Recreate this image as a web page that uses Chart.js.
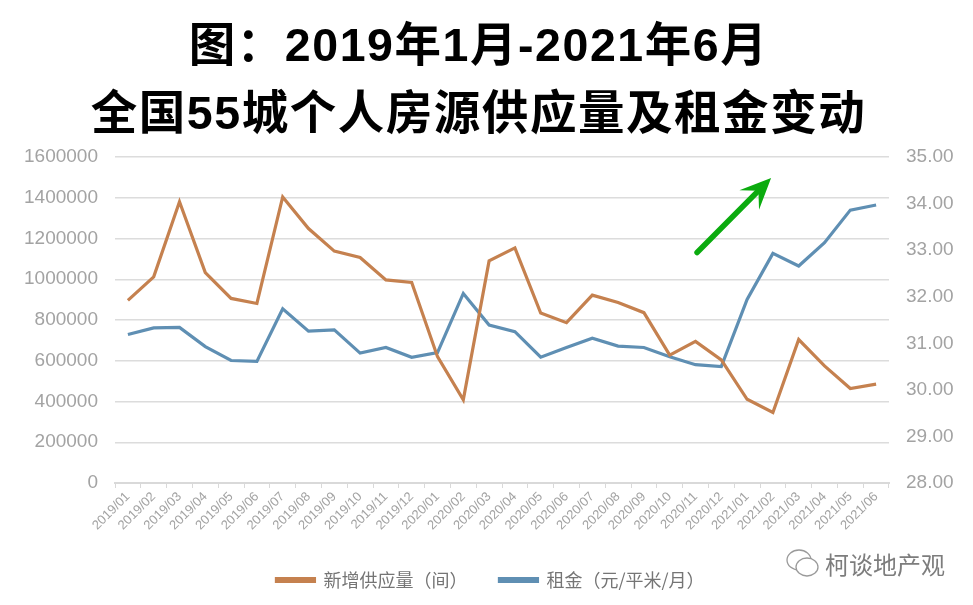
<!DOCTYPE html>
<html lang="zh">
<head>
    <meta charset="UTF-8">
    <title>全国55城个人房源供应量及租金变动</title>
    <script src="https://cdnjs.cloudflare.com/ajax/libs/Chart.js/4.4.1/chart.umd.min.js"></script>
    <style>
        * { margin: 0; padding: 0; box-sizing: border-box; }
        html, body { width: 973px; height: 605px; overflow: hidden; background: #fff; }
        .title {
            position: absolute;
            left: 0;
            top: 11px;
            width: 957px;
            text-align: center;
            font-family: "Liberation Sans", "Noto Sans CJK SC", sans-serif;
            font-weight: 700;
            font-size: 46.5px;
            line-height: 68px;
            letter-spacing: 1.55px;
            color: #000;
        }
        .chart-box { position: absolute; left: 0; top: 0; width: 973px; height: 605px; }
        .mark {
            position: absolute;
            left: 786px;
            top: 546px;
            display: flex;
            align-items: center;
            gap: 5px;
            font-family: "Noto Sans CJK SC", sans-serif;
            font-size: 24px;
            color: #7d7d7d;
        }
    </style>
</head>
<body>
    <div class="chart-box"><canvas id="rentChart"></canvas></div>
    <h1 class="title">图：2019年1月-2021年6月<br>全国55城个人房源供应量及租金变动</h1>
    <div class="mark">
        <svg width="34" height="32" viewBox="0 0 34 32" fill="#fff" stroke="#9a9a9a" stroke-width="1.3">
            <ellipse cx="13" cy="12" rx="12" ry="10"/>
            <ellipse cx="21" cy="19" rx="11" ry="9"/>
        </svg>
        <span>柯谈地产观</span>
    </div>

    <script>
        const months = [
            '2019/01', '2019/02', '2019/03', '2019/04', '2019/05', '2019/06',
            '2019/07', '2019/08', '2019/09', '2019/10', '2019/11', '2019/12',
            '2020/01', '2020/02', '2020/03', '2020/04', '2020/05', '2020/06',
            '2020/07', '2020/08', '2020/09', '2020/10', '2020/11', '2020/12',
            '2021/01', '2021/02', '2021/03', '2021/04', '2021/05', '2021/06'
        ];
        const supply = [
            896000, 1012000, 1380000, 1033000, 906000, 881000,
            1404000, 1249000, 1138000, 1107000, 997000, 984000,
            620000, 408000, 1090000, 1154000, 834000, 787000,
            922000, 886000, 836000, 628000, 695000, 604000,
            411000, 346000, 704000, 575000, 464000, 485000
        ];
        const rent = [
            31.19, 31.33, 31.34, 30.93, 30.63, 30.61,
            31.74, 31.26, 31.29, 30.79, 30.91, 30.70,
            30.80, 32.07, 31.39, 31.25, 30.70, 30.91,
            31.11, 30.94, 30.91, 30.71, 30.54, 30.50,
            31.94, 32.93, 32.66, 33.16, 33.86, 33.97
        ];
        const seriesNames = ['新增供应量（间）', '租金（元/平米/月）'];

        // green trend arrow, given as [category index, rent]
        const arrowFrom = [22.06, 32.95];
        const arrowTo = [24.93, 34.55];

        const tickFont = { family: '"Liberation Sans", Arial, sans-serif', size: 19 };

        const arrowPlugin = {
            id: 'trendArrow',
            afterDatasetsDraw(chart) {
                const x = chart.scales.x, y = chart.scales.y1, c = chart.ctx;
                const x0 = x.getPixelForValue(arrowFrom[0]), y0 = y.getPixelForValue(arrowFrom[1]);
                const x1 = x.getPixelForValue(arrowTo[0]), y1 = y.getPixelForValue(arrowTo[1]);
                const a = Math.atan2(y1 - y0, x1 - x0);
                c.save();
                c.strokeStyle = c.fillStyle = '#0bab0f';
                c.lineWidth = 5.5;
                c.lineCap = 'round';
                c.beginPath();
                c.moveTo(x0, y0);
                c.lineTo(x1 - 12 * Math.cos(a), y1 - 12 * Math.sin(a));
                c.stroke();
                c.beginPath();
                c.moveTo(x1, y1);
                c.lineTo(x1 - 34 * Math.cos(a - 0.42), y1 - 34 * Math.sin(a - 0.42));
                c.lineTo(x1 - 18 * Math.cos(a), y1 - 18 * Math.sin(a));
                c.lineTo(x1 - 34 * Math.cos(a + 0.42), y1 - 34 * Math.sin(a + 0.42));
                c.closePath();
                c.fill();
                c.restore();
            }
        };

        new Chart(document.getElementById('rentChart'), {
            type: 'line',
            plugins: [arrowPlugin],
            data: {
                labels: months,
                datasets: [{
                    label: seriesNames[0],
                    data: supply,
                    yAxisID: 'y',
                    borderColor: '#c5814f',
                    backgroundColor: '#c5814f',
                    borderWidth: 3.2,
                    pointRadius: 0,
                    tension: 0
                }, {
                    label: seriesNames[1],
                    data: rent,
                    yAxisID: 'y1',
                    borderColor: '#5f8fb3',
                    backgroundColor: '#5f8fb3',
                    borderWidth: 3.2,
                    pointRadius: 0,
                    tension: 0
                }]
            },
            options: {
                responsive: true,
                maintainAspectRatio: false,
                animation: false,
                layout: { padding: { top: 157, left: 8, right: 0, bottom: 6 } },
                plugins: {
                    title: { display: false },
                    tooltip: { enabled: false },
                    legend: {
                        position: 'bottom',
                        labels: {
                            color: '#757575',
                            font: { family: '"Noto Sans CJK SC", sans-serif', size: 18 },
                            boxWidth: 38,
                            boxHeight: 3,
                            padding: 32
                        }
                    }
                },
                scales: {
                    x: {
                        offset: true,
                        afterFit(axis) { axis.height = 56; },
                        border: { color: '#d9d9d9', width: 2 },
                        grid: { drawOnChartArea: false, color: '#d9d9d9', tickLength: 5, offset: true },
                        ticks: {
                            color: '#a3a3a3',
                            font: { family: tickFont.family, size: 13 },
                            maxRotation: 45,
                            minRotation: 45,
                            autoSkip: false,
                            padding: 1
                        }
                    },
                    y: {
                        position: 'left',
                        min: 0,
                        max: 1600000,
                        afterFit(axis) { axis.width = 107; },
                        border: { display: false },
                        grid: { color: '#dcdcdc', lineWidth: 1.5, drawTicks: false },
                        ticks: {
                            stepSize: 200000,
                            color: '#a3a3a3',
                            font: tickFont,
                            padding: 17,
                            callback: value => String(value)
                        }
                    },
                    y1: {
                        position: 'right',
                        min: 28,
                        max: 35,
                        afterFit(axis) { axis.width = 84; },
                        border: { display: false },
                        grid: { drawOnChartArea: false, drawTicks: false },
                        ticks: {
                            stepSize: 1,
                            color: '#a3a3a3',
                            font: tickFont,
                            padding: 17,
                            callback: value => value.toFixed(2)
                        }
                    }
                }
            }
        });
    </script>
</body>
</html>
